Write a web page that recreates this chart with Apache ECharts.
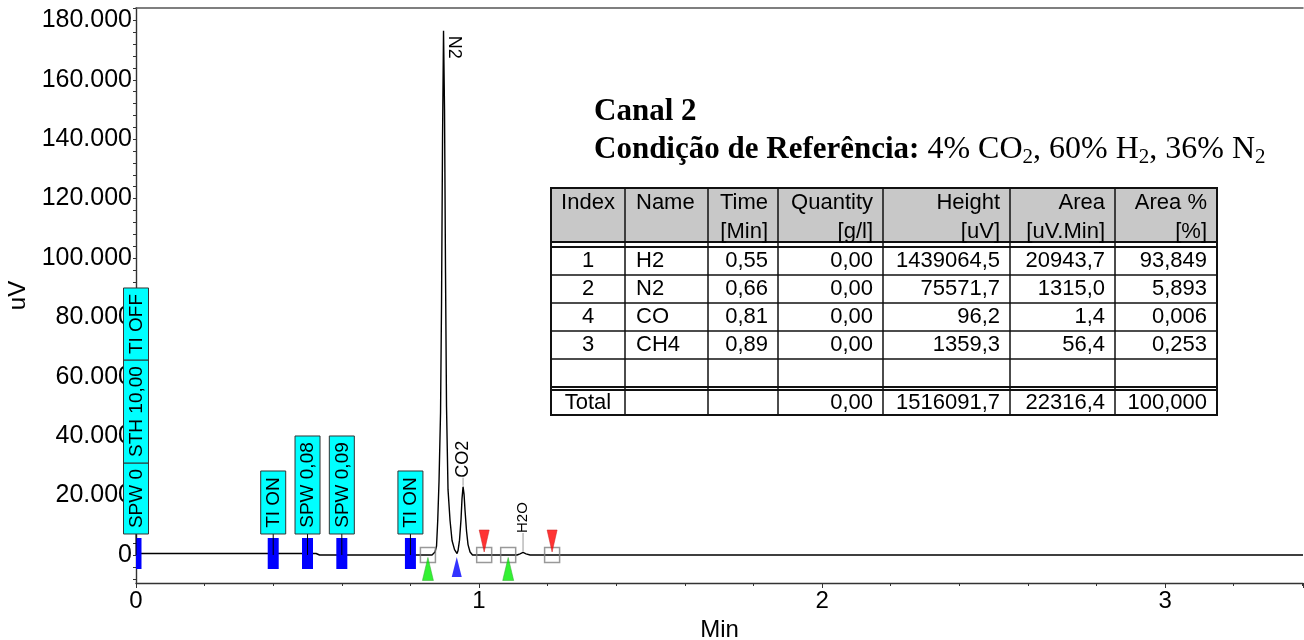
<!DOCTYPE html>
<html><head><meta charset="utf-8">
<script src="https://cdn.jsdelivr.net/npm/echarts@6/dist/echarts.min.js"></script>
<style>html,body{margin:0;padding:0;background:#fff}#c{width:1304px;height:640px}</style>
</head><body><div id="c"></div>
<script>
// ---------- data ----------
const traceTime = [0, 0.525, 0.535, 0.863, 0.8717, 0.8761, 0.8796, 0.8834, 0.8878, 0.8907, 0.8936, 0.8965,
  0.8994, 0.9023, 0.9052, 0.9096, 0.9155, 0.9213, 0.9286, 0.9359, 0.9388, 0.9431, 0.9475, 0.9504, 0.9534,
  0.9563, 0.9592, 0.9636, 0.9679, 0.9738, 0.9810, 1.1108, 1.1195, 1.1283, 1.137, 1.1487, 3.402];
const traceUv = [500, 500, 0, 0, 1000, 3000, 11600, 25000, 48000, 85000, 140000, 176500,
  150000, 95000, 50000, 22000, 11600, 4900, 1800, 500, 1500, 5000, 12000, 19000, 23000,
  20500, 15000, 8000, 3500, 1000, 0, 0, 400, 850, 400, 0, 0];

const yLabelValues = [0, 20000, 40000, 60000, 80000, 100000, 120000, 140000, 160000, 180000];
const yTickValues = [-8000, -4000, 0, 4000, 8000, 12000, 16000, 20000, 24000, 28000, 32000, 36000, 40000,
  44000, 48000, 52000, 56000, 60000, 64000, 68000, 72000, 76000, 80000, 84000, 88000, 92000, 96000, 100000,
  104000, 108000, 112000, 116000, 120000, 124000, 128000, 132000, 136000, 140000, 144000, 148000, 152000,
  156000, 160000, 164000, 168000, 172000, 176000, 180000, 184000];

const eventTimes = [0, 0.4, 0.5, 0.6, 0.8];
const eventLabels = [['SPW 0', 'STH 10,00', 'TI OFF'], ['TI ON'], ['SPW 0,08'], ['SPW 0,09'], ['TI ON']];

const peakNames = ['N2', 'CO2', 'H2O'];
const peakTimes = [0.8965, 0.9534, 1.1283];
const peakUv = [176500, 23000, 850];

const boundaryTimes = [0.851, 1.015, 1.085, 1.213];
const startTimes = [0.851, 1.085];
const valleyTimes = [0.935];
const endTimes = [1.015, 1.213];

const tableHeader1 = ['Index', 'Name', 'Time', 'Quantity', 'Height', 'Area', 'Area %'];
const tableHeader2 = ['', '', '[Min]', '[g/l]', '[uV]', '[uV.Min]', '[%]'];
const compIndex = [1, 2, 4, 3];
const compName = ['H2', 'N2', 'CO', 'CH4'];
const compTime = [0.55, 0.66, 0.81, 0.89];
const compQuantity = [0, 0, 0, 0];
const compHeight = [1439064.5, 75571.7, 96.2, 1359.3];
const compArea = [20943.7, 1315.0, 1.4, 56.4];
const compAreaPct = [93.849, 5.893, 0.006, 0.253];
const totalQuantity = 0, totalHeight = 1516091.7, totalArea = 22316.4, totalAreaPct = 100;

// ---------- helpers ----------
const SANS = '"Liberation Sans", Arial, sans-serif';
const SERIF = '"Liberation Serif", "Times New Roman", serif';
const fmt = (v, d) => v.toFixed(d).replace('.', ',');
const mctx = document.createElement('canvas').getContext('2d');
function textW(s, font) { mctx.font = font; return mctx.measureText(s).width; }

// ---------- table (graphic) ----------
const colX = [551, 625, 708, 778, 883, 1010, 1115, 1217];
const colAlign = ['center', 'left', 'right', 'right', 'right', 'right', 'right'];
const tTop = 188, headBot = 242, bodyTop = 247, rowH = 28, nBody = 5, totTop = 390, tBot = 415;
const TFONT = '22px ' + SANS;
const tbl = [];
tbl.push({type: 'rect', shape: {x: colX[0], y: tTop, width: colX[7] - colX[0], height: headBot - tTop}, style: {fill: '#c8c8c8'}});
function hline(y, w) { tbl.push({type: 'line', shape: {x1: colX[0], y1: y, x2: colX[7], y2: y}, style: {stroke: '#111', lineWidth: w}}); }
hline(headBot, 2); hline(bodyTop, 2);
for (let k = 1; k < nBody; k++) hline(bodyTop + k * rowH, 1.5);
hline(bodyTop + nBody * rowH, 2); hline(totTop, 2);
for (let c = 1; c < 7; c++) tbl.push({type: 'line', shape: {x1: colX[c], y1: tTop, x2: colX[c], y2: tBot}, style: {stroke: '#111', lineWidth: 1.5}});
tbl.push({type: 'rect', shape: {x: colX[0], y: tTop, width: colX[7] - colX[0], height: tBot - tTop}, style: {fill: 'none', stroke: '#111', lineWidth: 2}});
function cellText(c, y, s) {
  let x, a = colAlign[c];
  if (a === 'center') x = (colX[c] + colX[c + 1]) / 2;
  else if (a === 'left') x = colX[c] + 11;
  else x = colX[c + 1] - 10;
  tbl.push({type: 'text', x: x, y: y, style: {text: s, font: TFONT, fill: '#000', align: a, textAlign: a, verticalAlign: 'middle', textVerticalAlign: 'middle'}});
}
for (let c = 0; c < 7; c++) { cellText(c, 203, tableHeader1[c]); if (tableHeader2[c]) cellText(c, 232, tableHeader2[c]); }
for (let r = 0; r < compName.length; r++) {
  const y = bodyTop + r * rowH + rowH / 2;
  const row = [String(compIndex[r]), compName[r], fmt(compTime[r], 2), fmt(compQuantity[r], 2), fmt(compHeight[r], 1), fmt(compArea[r], 1), fmt(compAreaPct[r], 3)];
  row.forEach((s, c) => cellText(c, y, s));
}
['Total', '', '', fmt(totalQuantity, 2), fmt(totalHeight, 1), fmt(totalArea, 1), fmt(totalAreaPct, 3)]
  .forEach((s, c) => { if (s) cellText(c, (totTop + tBot) / 2, s); });

// ---------- title (graphic) ----------
const titleEls = [
  {type: 'text', x: 594, y: 112, style: {text: 'Canal 2', font: 'bold 31px ' + SERIF, fill: '#000', verticalAlign: 'middle', textVerticalAlign: 'middle'}},
  {type: 'text', x: 594, y: 150, style: {
    text: '{b|Condição de Referência:}{r| 4% CO}{s|2}{r|, 60% H}{s|2}{r|, 36% N}{s|2}',
    verticalAlign: 'middle', textVerticalAlign: 'middle',
    rich: {
      b: {fontFamily: SERIF, fontWeight: 'bold', fontSize: 31, lineHeight: 36, fill: '#000', color: '#000'},
      r: {fontFamily: SERIF, fontSize: 32, lineHeight: 36, fill: '#000', color: '#000'},
      s: {fontFamily: SERIF, fontSize: 21, lineHeight: 26, verticalAlign: 'bottom', fill: '#000', color: '#000'}
    }
  }}
];

// ---------- chart ----------
const chart = echarts.init(document.getElementById('c'), null, {renderer: 'canvas'});
const axisCol = '#333';
const option = {
  animation: false,
  backgroundColor: '#fff',
  grid: {left: 136, right: 1, top: 8, bottom: 57, containLabel: false, outerBoundsMode: 'none'},
  xAxis: [{
    type: 'value', min: 0, max: 3.402, interval: 1, position: 'bottom',
    axisLine: {onZero: false, lineStyle: {color: axisCol, width: 1.4}},
    axisTick: {length: 5, lineStyle: {color: axisCol}},
    minorTick: {show: true, splitNumber: 5, length: 3, lineStyle: {color: axisCol}},
    splitLine: {show: false}, minorSplitLine: {show: false},
    axisLabel: {fontSize: 24, color: '#000', fontFamily: SANS, margin: 6, showMaxLabel: false, formatter: v => String(v)},
    name: 'Min', nameLocation: 'middle', nameGap: 32,
    nameTextStyle: {fontSize: 24, color: '#000', fontFamily: SANS}
  }, {
    type: 'value', min: 0, max: 3.402, position: 'top',
    axisLine: {show: true, onZero: false, lineStyle: {color: '#555', width: 1.5}},
    axisTick: {show: false}, axisLabel: {show: false}, splitLine: {show: false}
  }],
  yAxis: {
    type: 'value', min: -9428, max: 184175,
    axisLine: {show: true, onZero: false, lineStyle: {color: axisCol, width: 1.4}},
    axisTick: {show: true, length: 3, customValues: yTickValues, lineStyle: {color: axisCol}},
    axisLabel: {customValues: yLabelValues, fontSize: 25, color: '#000', fontFamily: SANS, margin: 4,
      formatter: v => v === 0 ? '0' : (v / 1000).toFixed(3)},
    splitLine: {show: false},
    name: 'uV', nameLocation: 'middle', nameGap: 104,
    nameTextStyle: {fontSize: 24, color: '#000', fontFamily: SANS}
  },
  series: [
    {
      type: 'line', name: 'trace', data: traceTime.map((t, i) => [t, traceUv[i]]),
      showSymbol: false, symbol: 'none', lineStyle: {color: '#000', width: 1.4}, z: 2, clip: true
    },
    {
      type: 'scatter', data: boundaryTimes.map(t => [t, 0]), symbol: 'rect', symbolSize: 15,
      itemStyle: {color: 'rgba(255,255,255,0)', borderColor: '#808080', borderWidth: 1.5}, z: 3
    },
    {
      type: 'scatter', data: startTimes.map(t => [t, 0]), symbol: 'triangle', symbolSize: [11, 23], symbolOffset: [0, 14],
      itemStyle: {color: '#00ee00', borderColor: '#33aa33', borderWidth: 0.6}, z: 3
    },
    {
      type: 'scatter', data: valleyTimes.map(t => [t, 0]), symbol: 'triangle', symbolSize: [10, 20], symbolOffset: [0, 12],
      itemStyle: {color: '#0000ff'}, z: 3
    },
    {
      type: 'scatter', data: endTimes.map(t => [t, 0]), symbol: 'triangle', symbolRotate: 180, symbolSize: [10, 22], symbolOffset: [0, -14],
      itemStyle: {color: '#ff0000', borderColor: '#cc2222', borderWidth: 0.6}, z: 3
    },
    {
      type: 'custom', name: 'events', clip: false, z: 5,
      data: eventTimes.map((t, i) => [t, i]),
      renderItem: function (params, api) {
        const t = api.value(0), i = api.value(1);
        const p = api.coord([t, 0]);
        const cs = params.coordSys;
        const ch = [];
        let x0 = p[0] - 5.5, x1 = p[0] + 5.5;
        if (x0 < cs.x) x0 = cs.x;
        ch.push({type: 'rect', shape: {x: x0, y: p[1] - 17, width: x1 - x0, height: 31}, style: {fill: '#0000ff'}});
        let yb = p[1] - 21;
        ch.push({type: 'line', shape: {x1: p[0], y1: p[1], x2: p[0], y2: yb}, style: {stroke: '#000', lineWidth: 1}});
        const f = '19px ' + SANS;
        eventLabels[i].forEach(lbl => {
          const h = Math.round(textW(lbl, f) + 12);
          ch.push({type: 'rect', shape: {x: p[0] - 12.5, y: yb - h, width: 25, height: h}, style: {fill: '#00ffff', stroke: '#333', lineWidth: 1}});
          ch.push({type: 'text', x: p[0] + 0.5, y: yb - h / 2, rotation: Math.PI / 2,
            style: {text: lbl, font: f, fill: '#000', align: 'center', textAlign: 'center', verticalAlign: 'middle', textVerticalAlign: 'middle'}});
          yb -= h;
        });
        return {type: 'group', children: ch};
      }
    },
    {
      type: 'custom', name: 'peaks', clip: false, z: 5,
      data: peakTimes.map((t, i) => [t, peakUv[i], i]),
      renderItem: function (params, api) {
        const t = api.value(0), h = api.value(1), i = api.value(2);
        const p = api.coord([t, h]);
        const base = api.coord([t, 0])[1];
        const cs = params.coordSys;
        const fs = h < 5000 ? 15 : 18;
        const f = fs + 'px ' + SANS;
        if (p[1] < cs.y + 60) {
          return {type: 'text', x: p[0] + 1, y: p[1] + 5, rotation: -Math.PI / 2,
            style: {text: peakNames[i], font: f, fill: '#000', align: 'left', textAlign: 'left', verticalAlign: 'bottom', textVerticalAlign: 'bottom'}};
        }
        const yb = Math.min(p[1] - 9, base - 22);
        return {type: 'group', children: [
          {type: 'line', shape: {x1: p[0], y1: p[1] - 1, x2: p[0], y2: yb}, style: {stroke: '#999', lineWidth: 1}},
          {type: 'text', x: p[0], y: yb, rotation: Math.PI / 2,
            style: {text: peakNames[i], font: f, fill: '#000', align: 'left', textAlign: 'left', verticalAlign: 'middle', textVerticalAlign: 'middle'}}
        ]};
      }
    }
  ],
  graphic: {elements: titleEls.concat(tbl)}
};
chart.setOption(option);
</script>
</body></html>
